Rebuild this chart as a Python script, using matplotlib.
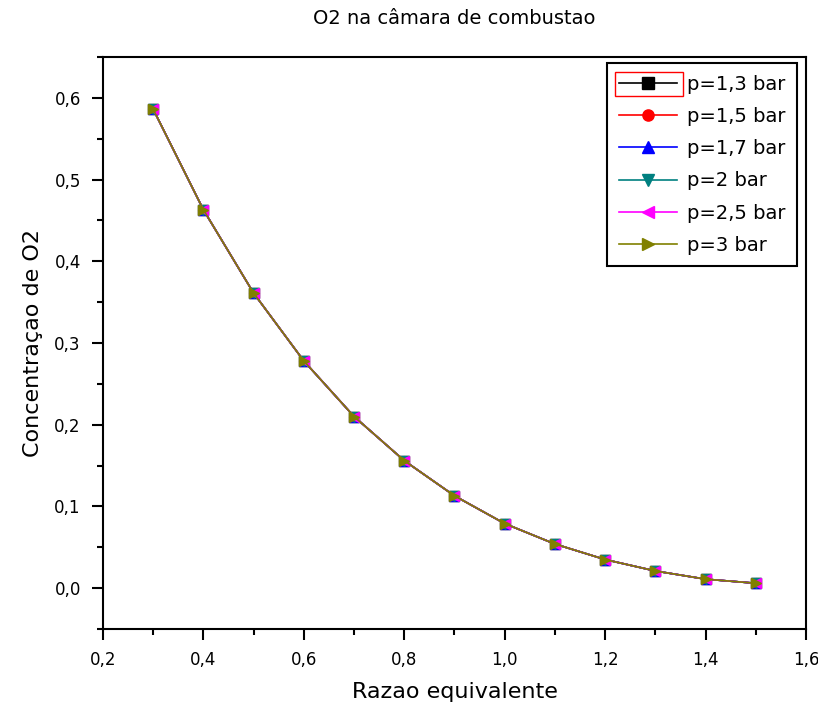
import matplotlib
matplotlib.use("Agg")
import matplotlib.pyplot as plt
from matplotlib.ticker import MultipleLocator, FuncFormatter
from matplotlib.patches import Rectangle

# razao equivalente
phi = [0.3, 0.4, 0.5, 0.6, 0.7, 0.8, 0.9, 1.0, 1.1, 1.2, 1.3, 1.4, 1.5]

# O2 concentration for each pressure (curves lie on top of each other)
o2_p13 = [0.586, 0.463, 0.361, 0.278, 0.210, 0.156, 0.113, 0.079, 0.054, 0.035, 0.021, 0.011, 0.006]
o2_p15 = [0.586, 0.463, 0.361, 0.278, 0.210, 0.156, 0.113, 0.079, 0.054, 0.035, 0.021, 0.011, 0.006]
o2_p17 = [0.586, 0.463, 0.361, 0.278, 0.210, 0.156, 0.113, 0.079, 0.054, 0.035, 0.021, 0.011, 0.006]
o2_p20 = [0.586, 0.463, 0.361, 0.278, 0.210, 0.156, 0.113, 0.079, 0.054, 0.035, 0.021, 0.011, 0.006]
o2_p25 = [0.586, 0.463, 0.361, 0.278, 0.210, 0.156, 0.113, 0.079, 0.054, 0.035, 0.021, 0.011, 0.006]
o2_p30 = [0.586, 0.463, 0.361, 0.278, 0.210, 0.156, 0.113, 0.079, 0.054, 0.035, 0.021, 0.011, 0.006]

labels = ['p=1,3 bar', 'p=1,5 bar', 'p=1,7 bar', 'p=2 bar', 'p=2,5 bar', 'p=3 bar']
colors = ['black', 'red', 'blue', '#008080', 'magenta', '#808000']
markers = ['s', 'o', '^', 'v', '<', '>']
series = [o2_p13, o2_p15, o2_p17, o2_p20, o2_p25, o2_p30]

plt.rcParams['font.family'] = ['DejaVu Sans']

fig = plt.figure(figsize=(8.18, 7.13), dpi=100)
ax = fig.add_axes([103/818, 1-629/713, 703/818, 572/713])

for y, lab, c, m in zip(series, labels, colors, markers):
    ax.plot(phi, y, color=c, marker=m, markersize=7, linewidth=1.2, label=lab)

ax.set_xlim(0.2, 1.6)
ax.set_ylim(-0.05, 0.65)
ax.xaxis.set_major_locator(MultipleLocator(0.2))
ax.xaxis.set_minor_locator(MultipleLocator(0.1))
ax.yaxis.set_major_locator(MultipleLocator(0.1))
ax.yaxis.set_minor_locator(MultipleLocator(0.05))
comma = FuncFormatter(lambda v, p: f"{v:.1f}".replace('.', ','))
ax.xaxis.set_major_formatter(comma)
ax.yaxis.set_major_formatter(comma)
ax.tick_params(which='major', direction='out', length=8, width=1.5, labelsize=12, pad=8)
ax.tick_params(which='minor', direction='out', length=4, width=1.5)
ax.tick_params(top=False, right=False)
for s in ax.spines.values():
    s.set_linewidth(1.5)

ax.set_xlabel('Razao equivalente', fontsize=16, labelpad=9)
ax.set_ylabel('Concentraçao de O2', fontsize=16, labelpad=8)
fig.text(454/818, 1-19/713, 'O2 na câmara de combustao', fontsize=14,
         ha='center', va='center')

leg = ax.legend(loc='upper right', bbox_to_anchor=(797/818, 1-63/713),
                bbox_transform=fig.transFigure, fontsize=14, frameon=True,
                fancybox=False, edgecolor='black', framealpha=1,
                handlelength=3.0, labelspacing=0.68, borderaxespad=0,
                borderpad=0.6, handletextpad=0.5, markerscale=1.15)
leg.get_frame().set_linewidth(1.5)

fig.canvas.draw()
# red selection box around the first legend handle, as in the source
txt = leg.get_texts()[0].get_window_extent()
inv = fig.transFigure.inverted()
x0 = leg.get_window_extent().x0 + 8
x1 = txt.x0 - 4
y0, y1 = txt.y0 - 2, txt.y1 + 3
(fx0, fy0), (fx1, fy1) = inv.transform([(x0, y0), (x1, y1)])
fig.patches.append(Rectangle((fx0, fy0), fx1 - fx0, fy1 - fy0, fill=False,
                             edgecolor='red', linewidth=1, transform=fig.transFigure,
                             figure=fig, zorder=10))

fig.savefig('out.png', dpi=100)
